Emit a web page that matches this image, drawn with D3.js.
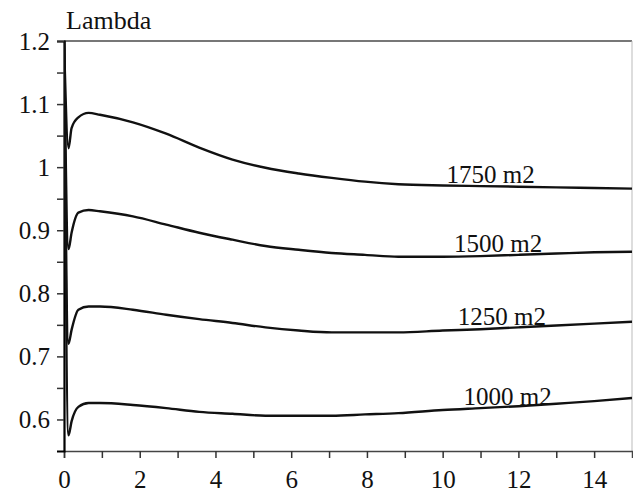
<!DOCTYPE html>
<html><head><meta charset="utf-8"><script src="https://cdn.jsdelivr.net/npm/d3@7"></script></head>
<body style="margin:0;background:#fff">
<svg id="chart" width="633" height="494" style="display:block;font-family:'Liberation Serif'"></svg>
<script>
// ---- data ----
const timeValues = [0, 0.12, 0.2, 0.38, 0.65, 0.95, 1.82, 2.7, 3.57, 4.45, 5.32, 6.2, 7.07, 7.95, 8.83, 10, 11, 12, 13, 14, 15];
const lambda1750 = [1.2, 1.03, 1.062, 1.079, 1.086, 1.083, 1.071, 1.053, 1.031, 1.012, 0.999, 0.990, 0.983, 0.977, 0.973, 0.971, 0.970, 0.969, 0.968, 0.967, 0.966];
const lambda1500 = [1.2, 0.87, 0.896, 0.928, 0.932, 0.930, 0.922, 0.909, 0.896, 0.885, 0.875, 0.869, 0.864, 0.861, 0.858, 0.858, 0.859, 0.861, 0.863, 0.865, 0.866];
const lambda1250 = [1.2, 0.72, 0.742, 0.774, 0.779, 0.779, 0.774, 0.766, 0.759, 0.753, 0.746, 0.741, 0.738, 0.738, 0.738, 0.741, 0.743, 0.746, 0.749, 0.752, 0.755];
const lambda1000 = [1.2, 0.575, 0.597, 0.620, 0.626, 0.626, 0.623, 0.618, 0.612, 0.609, 0.606, 0.606, 0.606, 0.608, 0.610, 0.615, 0.618, 0.621, 0.625, 0.629, 0.634];
const seriesNames = ["1750 m2", "1500 m2", "1250 m2", "1000 m2"];
const labelTimes = [10.1, 10.3, 10.4, 10.55];
const labelValues = [0.975, 0.865, 0.750, 0.623];
const xTickValues = [0, 2, 4, 6, 8, 10, 12, 14];
const xTickLabels = ["0", "2", "4", "6", "8", "10", "12", "14"];
const xMinorTicks = [1, 3, 5, 7, 9, 11, 13];
const yTickValues = [0.6, 0.7, 0.8, 0.9, 1.0, 1.1, 1.2];
const yTickLabels = ["0.6", "0.7", "0.8", "0.9", "1", "1.1", "1.2"];
const yMinorTicks = [0.65, 0.75, 0.85, 0.95, 1.05, 1.15];
const yTitle = "Lambda";

const seriesValues = [lambda1750, lambda1500, lambda1250, lambda1000];

// ---- layout ----
const W = 633, H = 494;
const margin = { left: 64, right: 1, top: 41, bottom: 43 };
const iw = W - margin.left - margin.right;
const ih = H - margin.top - margin.bottom;
const FONT = "'Liberation Serif'";

const svg = d3.select("#chart");
const g = svg.append("g").attr("transform", `translate(${margin.left},${margin.top})`);

const x = d3.scaleLinear().domain([0, 15]).range([0, iw]);
const y = d3.scaleLinear().domain([0.55, 1.2]).range([ih, 0]);

svg.append("defs").append("clipPath").attr("id", "plotclip")
  .append("rect").attr("x", 0).attr("y", -1).attr("width", iw).attr("height", ih + 1);

// frame top/right
g.append("line").attr("x1", 0).attr("x2", iw).attr("y1", 0).attr("y2", 0)
  .attr("stroke", "#777").attr("stroke-width", 2);
g.append("line").attr("x1", iw).attr("x2", iw).attr("y1", 0).attr("y2", ih)
  .attr("stroke", "#bbb").attr("stroke-width", 1);

// axes
const fontSize = 25;
const xAxis = g.append("g").attr("transform", `translate(0,${ih})`)
  .call(d3.axisBottom(x).tickValues(xTickValues).tickSize(7).tickPadding(12)
    .tickFormat((d, i) => xTickLabels[i]));
const xMinor = g.append("g").attr("transform", `translate(0,${ih})`)
  .call(d3.axisBottom(x).tickValues(xMinorTicks).tickSize(7).tickFormat(""));
const yAxis = g.append("g")
  .call(d3.axisLeft(y).tickValues(yTickValues).tickSize(7).tickPadding(7)
    .tickFormat((d, i) => yTickLabels[i]));
const yMinor = g.append("g")
  .call(d3.axisLeft(y).tickValues(yMinorTicks).tickSize(7).tickFormat(""));

[xAxis, xMinor, yAxis, yMinor].forEach(a => {
  a.attr("font-family", null).attr("font-size", null);
  a.selectAll("text").style("font-family", FONT).attr("font-size", fontSize).attr("fill", "#111");
  a.selectAll(".tick line").attr("stroke", "#333").attr("stroke-width", 1.5);
});
xAxis.select(".domain").attr("stroke", "#444").attr("stroke-width", 1.5);
xMinor.select(".domain").remove();
yMinor.select(".domain").remove();
yAxis.select(".domain").attr("stroke", "#000").attr("stroke-width", 2.2);

// title
svg.append("text").attr("x", margin.left + 2).attr("y", 29)
  .style("font-family", FONT).attr("font-size", 26).attr("fill", "#111").text(yTitle);

// lines
const line = d3.line()
  .x((d, i) => x(timeValues[i]))
  .y(d => y(d))
  .curve(d3.curveMonotoneX);

const plot = g.append("g").attr("clip-path", "url(#plotclip)");
plot.selectAll("path.series").data(seriesValues).join("path")
  .attr("class", "series")
  .attr("d", d => line(d))
  .attr("fill", "none")
  .attr("stroke", "#111")
  .attr("stroke-width", 2.4)
  .attr("stroke-linejoin", "round");

// curve labels
g.selectAll("text.lbl").data(seriesNames).join("text")
  .attr("class", "lbl")
  .attr("x", (d, i) => x(labelTimes[i]))
  .attr("y", (d, i) => y(labelValues[i]))
  .style("font-family", FONT)
  .attr("font-size", 25)
  .attr("fill", "#111")
  .text(d => d);
</script>
</body></html>
